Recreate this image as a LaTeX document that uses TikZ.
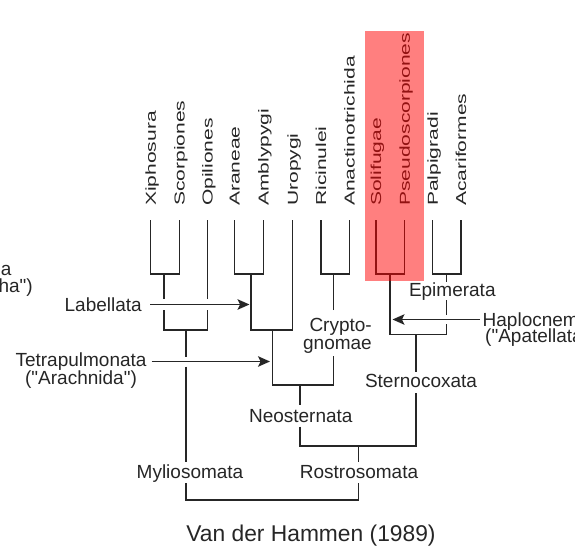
\documentclass[tikz,border=0pt]{standalone}
\usepackage{fontspec}
\setmainfont{Liberation Sans}[Ligatures=TeXOff]
\usepackage{graphicx}
\usetikzlibrary{arrows.meta}
\definecolor{ink}{HTML}{262626}
\newcommand{\labfont}{\fontsize{19}{17}\selectfont}
\newcommand{\topfont}{\fontsize{14.4}{16}\selectfont}
\newcommand{\capfont}{\fontsize{22.8}{26}\selectfont}
\begin{document}
\begin{tikzpicture}[x=1pt,y=-1pt,
  br/.style={draw=ink, line width=1.5pt},
  arr/.style={draw=ink, line width=1.5pt, -{Stealth[length=12pt,width=10.5pt,inset=2.5pt]}},
  lab/.style={font=\labfont, text=ink, inner sep=0pt},
  toplab/.style={font=\topfont, text=ink, inner sep=0pt, rotate=90, anchor=base west}]
\useasboundingbox (0,0) rectangle (575,549);

% leaf labels
\foreach \nm/\tx/\xx in {xi/Xiphosura/150.7, sc/Scorpiones/179.3, op/Opiliones/207.3,
  ar/Araneae/234.3, am/Amblypygi/263.3, ur/Uropygi/292.7, ri/Ricinulei/321,
  an/Anactinotrichida/349.3, so/Solifugae/376, ps/Pseudoscorpiones/404.7,
  pa/Palpigradi/432.7, ac/Acariformes/461}
{
  \node[toplab] (t-\nm) at (\xx+5.2,206) {\scalebox{1.46}[1]{\tx}};
  \coordinate (l-\nm) at (\xx,220);
}

% cherries
\draw[br] (l-xi) -- (150.7,274) -- (179.3,274) -- (l-sc);
\draw[br] (l-ar) -- (234.3,274) -- (263.3,274) -- (l-am);
\draw[br] (l-ri) -- (321,274) -- (349.3,274) -- (l-an);
\draw[br] (l-so) -- (376,274) -- (404.7,274) -- (l-ps);
\draw[br] (l-pa) -- (432.7,274) -- (461,274) -- (l-ac);

% Myliosomata part
\draw[br] (164,274) -- (164,299);
\draw[br] (164,310) -- (164,330) -- (207.3,330) -- (207.3,310);
\draw[br] (207.3,299) -- (l-op);
\draw[br] (186,330) -- (186,356.7);
\draw[br] (186,366.7) -- (186,461.7);
\draw[br] (186,483.3) -- (186,500) -- (358.3,500) -- (358.3,483.3);
\draw[br] (358.3,461.7) -- (358.3,446);

% Neosternata part
\draw[br] (251,274) -- (251,330) -- (292.7,330) -- (l-ur);
\draw[br] (272.3,330) -- (272.3,385) -- (333.3,385) -- (333.3,356);
\draw[br] (333.3,310) -- (333.3,274);
\draw[br] (300,385) -- (300,405);
\draw[br] (300,426.7) -- (300,446) -- (416,446) -- (416,393);
\draw[br] (416,371.7) -- (416,334.3);

% Sternocoxata part
\draw[br] (446.7,274) -- (446.7,281.7);
\draw[br] (446.7,300) -- (446.7,315);
\draw[br] (446.7,324) -- (446.7,334.3) -- (390,334.3) -- (390,274);

% arrows
\coordinate (a-lab) at (150,304.5);
\coordinate (h-lab) at (249.5,304.5);
\coordinate (a-tet) at (151.7,361.5);
\coordinate (h-tet) at (270,361.5);
\coordinate (a-hap) at (480,319.5);
\coordinate (h-hap) at (392.5,319.5);
\draw[arr] (a-lab) -- (h-lab);
\draw[arr] (a-tet) -- (h-tet);
\draw[arr] (a-hap) -- (h-hap);

% clade labels
\node[lab, anchor=base east] (labellata) at (142,311.5) {Labellata};
\node[lab, anchor=base] (tetra1) at (81,366.5) {Tetrapulmonata};
\node[lab, anchor=base] (tetra2) at (81,384) {("Arachnida")};
\node[lab, anchor=base east] (crypto1) at (372,331.5) {Crypto-};
\node[lab, anchor=base east] (crypto2) at (372,349) {gnomae};
\node[lab, anchor=base] (epim) at (452.3,296.5) {Epimerata};
\node[lab, anchor=base west] (hap1) at (482.5,326) {Haplocnemata};
\node[lab, anchor=base west] (hap2) at (485,342.5) {("Apatellata")};
\node[lab, anchor=base] (sterno) at (421,387) {Sternocoxata};
\node[lab, anchor=base] (neo) at (300.8,422) {Neosternata};
\node[lab, anchor=base] (mylio) at (190,478) {Myliosomata};
\node[lab, anchor=base] (rostro) at (359,478) {Rostrosomata};
\node[lab, anchor=base east] (left1) at (11.7,275) {a};
\node[lab, anchor=base east] (left2) at (33,292.5) {ha")};
\node[lab, font=\capfont, anchor=base] (caption) at (311,541.5) {Van der Hammen (1989)};

% highlight
\fill[red, opacity=0.5] (365,31) rectangle (423.5,280.7);
\end{tikzpicture}
\end{document}
